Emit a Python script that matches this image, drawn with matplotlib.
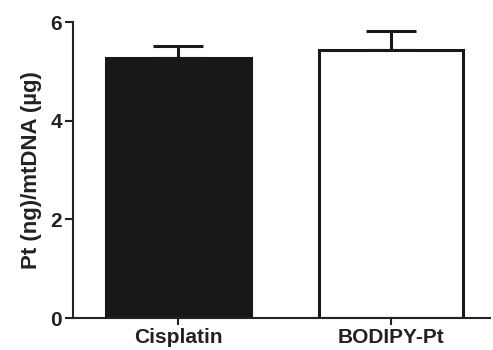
import matplotlib
matplotlib.use("Agg")
import matplotlib.pyplot as plt

# data
groups = ["Cisplatin", "BODIPY-Pt"]
means = [5.27, 5.44]
errs = [0.25, 0.38]
fills = ["#1a1718", "white"]

plt.rcParams['font.family'] = ['Liberation Sans', 'DejaVu Sans']
plt.rcParams['font.weight'] = 'bold'

fig = plt.figure(figsize=(4.93, 3.5), dpi=100)
ax = fig.add_axes([0.148, 0.091, 0.846, 0.846])

x = range(len(groups))
ax.bar(x, means, width=0.68, color=fills, edgecolor="#1a1718", linewidth=2.2, zorder=2)
ax.errorbar(x, means, yerr=[[0, 0], errs], fmt="none", ecolor="#1a1718",
            elinewidth=2.2, capsize=18, capthick=2.2, zorder=1)

ax.set_xlim(-0.496, 1.466)
ax.set_ylim(0, 6)
ax.set_yticks([0, 2, 4, 6])
ax.set_xticks(list(x))
ax.set_xticklabels(groups, fontsize=15, fontweight='bold', color="#222222")
ax.tick_params(axis='y', labelsize=15, colors="#222222", width=1.5, length=6, pad=2)
ax.tick_params(axis='x', width=1.5, length=5, colors="#222222", pad=2)
for lab in ax.get_yticklabels():
    lab.set_fontweight('bold')
ax.set_ylabel("Pt (ng)/mtDNA (µg)", fontsize=16, fontweight='bold', color="#222222", labelpad=6)

for s in ['top', 'right']:
    ax.spines[s].set_visible(False)
for s in ['left', 'bottom']:
    ax.spines[s].set_linewidth(1.5)
    ax.spines[s].set_color("#222222")

fig.savefig("out.png", dpi=100)
